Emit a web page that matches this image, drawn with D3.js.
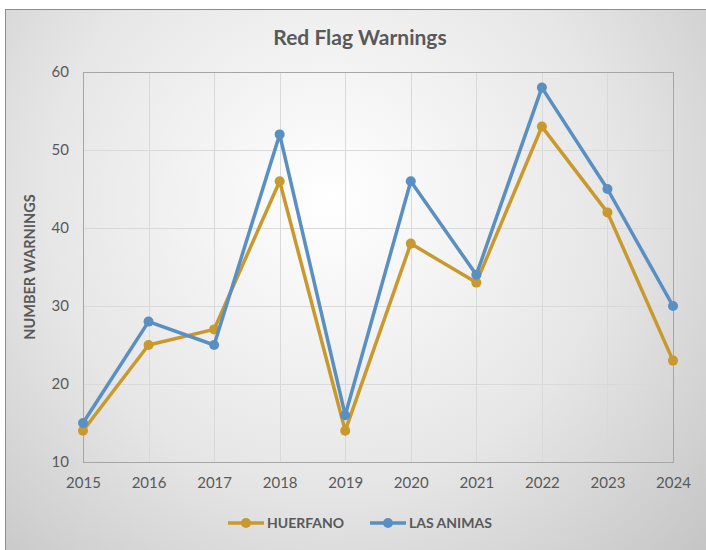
<!DOCTYPE html>
<html>
<head>
<meta charset="utf-8">
<script src="https://cdn.jsdelivr.net/npm/d3@7"></script>
<style>
  body { margin: 0; background: #fff; }
  text { font-family: Lato, "Open Sans", sans-serif; fill: #595959; }
</style>
</head>
<body>
<div id="chart"></div>
<script>
// Set variables
const FRAME_WIDTH = 706;
const FRAME_HEIGHT = 550;
const MARGINS = {left: 83, right: 33, top: 72, bottom: 88};
const VIS_WIDTH = FRAME_WIDTH - MARGINS.left - MARGINS.right;
const VIS_HEIGHT = FRAME_HEIGHT - MARGINS.top - MARGINS.bottom;

// Data
const YEARS = ["2015", "2016", "2017", "2018", "2019", "2020", "2021", "2022", "2023", "2024"];
const HUERFANO = [14, 25, 27, 46, 14, 38, 33, 53, 42, 23];
const LAS_ANIMAS = [15, 28, 25, 52, 16, 46, 34, 58, 45, 30];
const Y_TICKS = [10, 20, 30, 40, 50, 60];

const SERIES = [
  {name: "HUERFANO", values: HUERFANO, color: "#C8992F"},
  {name: "LAS ANIMAS", values: LAS_ANIMAS, color: "#5A8FC1"}
];

const svg = d3.select("#chart")
  .append("svg")
    .attr("width", FRAME_WIDTH)
    .attr("height", FRAME_HEIGHT);

// Background gradient
const defs = svg.append("defs");
const grad = defs.append("radialGradient")
    .attr("id", "bg")
    .attr("gradientUnits", "userSpaceOnUse")
    .attr("cx", 330).attr("cy", 200).attr("r", 520);
grad.append("stop").attr("offset", "0%").attr("stop-color", "#ffffff");
grad.append("stop").attr("offset", "55%").attr("stop-color", "#e6e6e6");
grad.append("stop").attr("offset", "100%").attr("stop-color", "#c4c4c4");

svg.append("rect")
    .attr("x", 5.5).attr("y", 9.5)
    .attr("width", FRAME_WIDTH + 10).attr("height", FRAME_HEIGHT + 10)
    .attr("fill", "url(#bg)")
    .attr("stroke", "#8c8c8c")
    .attr("stroke-width", 1);

const X_SCALE = d3.scalePoint()
    .domain(YEARS)
    .range([0, VIS_WIDTH]);

const Y_SCALE = d3.scaleLinear()
    .domain([10, 60])
    .range([VIS_HEIGHT, 0]);

const plot = svg.append("g")
    .attr("transform", "translate(" + MARGINS.left + "," + MARGINS.top + ")");

// Gridlines
plot.selectAll(".hgrid")
  .data(Y_TICKS)
  .enter()
  .append("line")
    .attr("x1", 0).attr("x2", VIS_WIDTH)
    .attr("y1", (d) => Math.round(Y_SCALE(d)) + 0.5)
    .attr("y2", (d) => Math.round(Y_SCALE(d)) + 0.5)
    .attr("stroke", "#d9d9d9");

plot.selectAll(".vgrid")
  .data(YEARS)
  .enter()
  .append("line")
    .attr("x1", (d) => Math.round(X_SCALE(d)) + 0.5)
    .attr("x2", (d) => Math.round(X_SCALE(d)) + 0.5)
    .attr("y1", 0).attr("y2", VIS_HEIGHT)
    .attr("stroke", "#d9d9d9");

// Plot border
plot.append("rect")
    .attr("x", 0.5).attr("y", 0.5)
    .attr("width", VIS_WIDTH).attr("height", VIS_HEIGHT)
    .attr("fill", "none")
    .attr("stroke", "#a6a6a6");

// Axes
const xAxis = plot.append("g")
    .attr("transform", "translate(0," + (VIS_HEIGHT + 7) + ")")
    .call(d3.axisBottom(X_SCALE).tickSize(0).tickPadding(8));
xAxis.select(".domain").remove();
xAxis.selectAll("text").attr("font-size", "15px").attr("fill", "#666666");

const yAxis = plot.append("g")
    .call(d3.axisLeft(Y_SCALE).tickValues(Y_TICKS).tickSize(0).tickPadding(14));
yAxis.select(".domain").remove();
yAxis.selectAll("text").attr("font-size", "15px").attr("fill", "#666666");

// Axis title
svg.append("text")
    .attr("transform", "translate(35," + (MARGINS.top + VIS_HEIGHT / 2) + ") rotate(-90)")
    .attr("text-anchor", "middle")
    .attr("font-size", "14.5px")
    .attr("font-weight", "bold")
    .text("NUMBER WARNINGS");

// Title
svg.append("text")
    .attr("x", 360).attr("y", 45)
    .attr("text-anchor", "middle")
    .attr("font-size", "21px")
    .attr("font-weight", "bold")
    .text("Red Flag Warnings");

// Lines and points
const line = d3.line()
    .x((d, i) => X_SCALE(YEARS[i]))
    .y((d) => Y_SCALE(d));

SERIES.forEach((s) => {
  plot.append("path")
      .datum(s.values)
      .attr("d", line)
      .attr("fill", "none")
      .attr("stroke", s.color)
      .attr("stroke-width", 3.5)
      .attr("stroke-linejoin", "round");

  plot.selectAll(null)
    .data(s.values)
    .enter()
    .append("circle")
      .attr("cx", (d, i) => X_SCALE(YEARS[i]))
      .attr("cy", (d) => Y_SCALE(d))
      .attr("r", 5)
      .attr("fill", s.color);
});

// Legend
const LEGEND_X = [228, 370];
const legend = svg.selectAll(".legend")
  .data(SERIES)
  .enter()
  .append("g")
    .attr("transform", (d, i) => "translate(" + LEGEND_X[i] + ",523)");

legend.append("line")
    .attr("x1", 0).attr("x2", 36)
    .attr("stroke", (d) => d.color)
    .attr("stroke-width", 3.5);
legend.append("circle")
    .attr("cx", 18).attr("r", 5)
    .attr("fill", (d) => d.color);
legend.append("text")
    .attr("x", 39).attr("y", 5)
    .attr("font-size", "14px")
    .attr("font-weight", "bold")
    .text((d) => d.name);
</script>
</body>
</html>
